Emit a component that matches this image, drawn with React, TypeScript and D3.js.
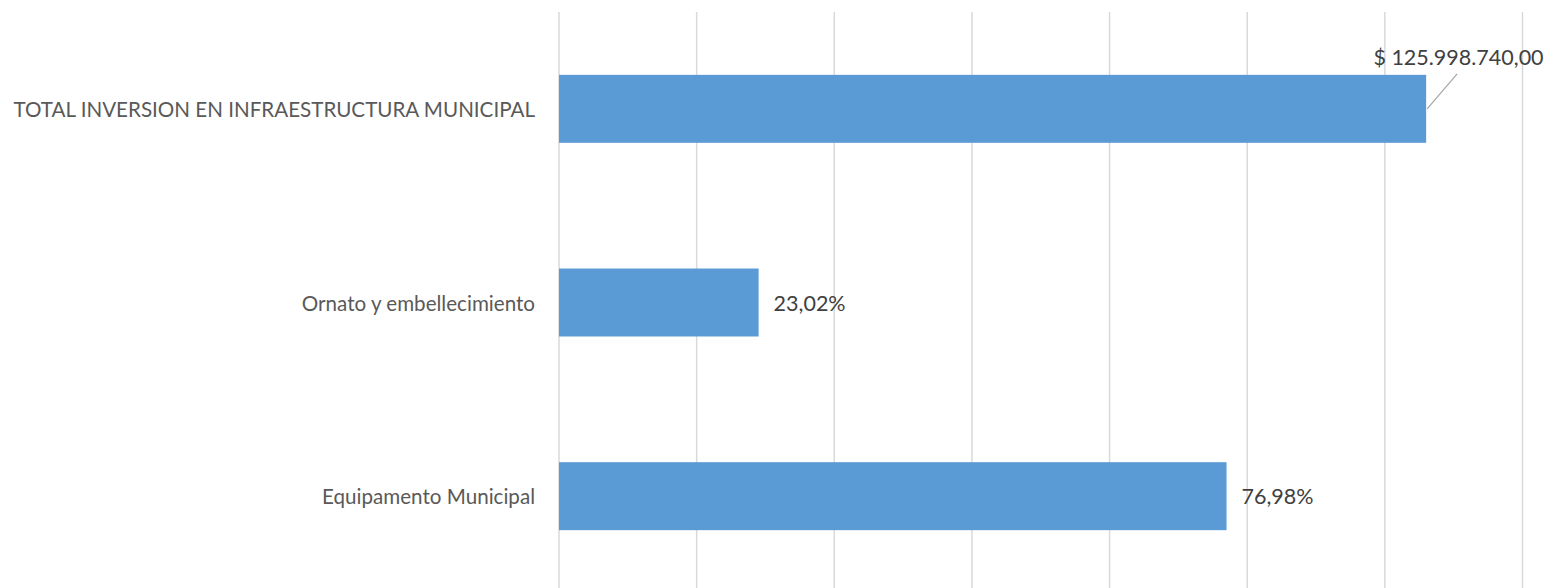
import React from "react";
import * as d3 from "d3";

const categories = ["TOTAL INVERSION EN INFRAESTRUCTURA MUNICIPAL", "Ornato y embellecimiento", "Equipamento Municipal"];
const values = [125998740, 29004860, 96993880];
const labels = ["$ 125.998.740,00", "23,02%", "76,98%"];
const xTicks = [0, 20000000, 40000000, 60000000, 80000000, 100000000, 120000000, 140000000];

const W = 1547;
const H = 588;
const FONT = "Lato, 'Open Sans', sans-serif";
const FS = 20.6;
const FS_LBL = 21.5;

export default function App() {
  const x = d3.scaleLinear().domain([0, 140000000]).range([559, 1522.5]);
  const y = d3.scaleBand<string>().domain(categories).range([12, 593]).paddingInner(0.649).paddingOuter(0.3245);
  return (
    <svg width={W} height={H} style={{ position: "absolute", left: 0, top: 0 }}>
      <rect width={W} height={H} fill="#fff" />
      {xTicks.map((t) => (
        <line key={t} x1={x(t)} x2={x(t)} y1={12} y2={593} stroke="#d9d9d9" strokeWidth={1.5} />
      ))}
      {categories.map((c, i) => (
        <g key={c}>
          <rect x={x(0)} y={y(c)} width={x(values[i]) - x(0)} height={y.bandwidth()} fill="#5b9bd5" />
          <text x={535} y={(y(c) as number) + y.bandwidth() / 2} textAnchor="end" dominantBaseline="central"
            fontFamily={FONT} fontSize={FS} fill="#595959">{c}</text>
        </g>
      ))}
      {categories.map((c, i) => {
        const cy = (y(c) as number) + y.bandwidth() / 2;
        if (i === 0) {
          const xe = x(values[i]);
          return (
            <g key={"l" + i}>
              <line x1={xe + 1} y1={cy} x2={xe + 31} y2={cy - 35} stroke="#a6a6a6" strokeWidth={1.2} />
              <text x={1458.5} y={cy - 52} textAnchor="middle" dominantBaseline="central"
                fontFamily={FONT} fontSize={FS_LBL} fill="#404040">{labels[i]}</text>
            </g>
          );
        }
        return (
          <text key={"l" + i} x={x(values[i]) + 15} y={cy} dominantBaseline="central"
            fontFamily={FONT} fontSize={FS_LBL} fill="#404040">{labels[i]}</text>
        );
      })}
    </svg>
  );
}
